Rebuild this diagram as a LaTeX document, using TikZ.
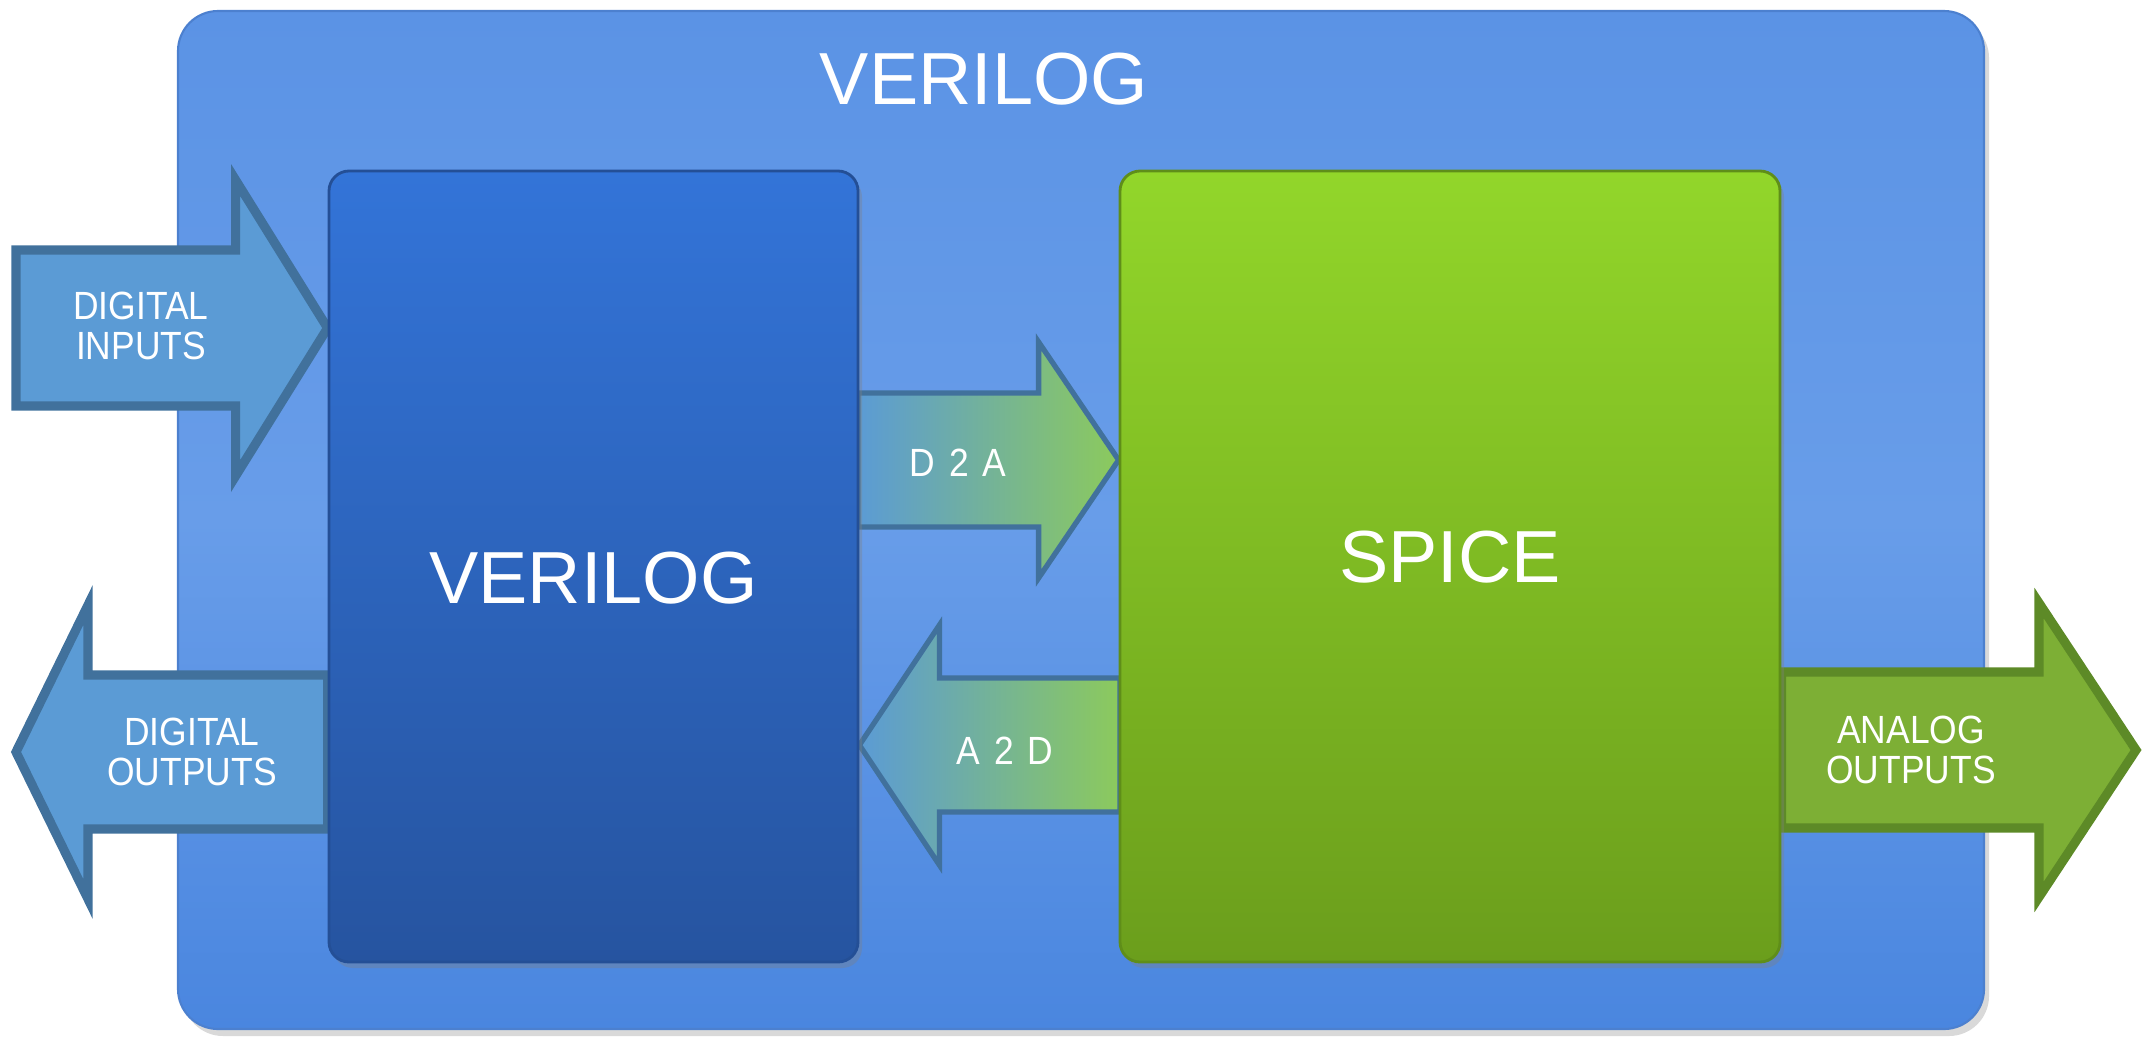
\documentclass[tikz,border=0pt]{standalone}
\usepackage{fontspec}
\setmainfont{Liberation Sans}
\newfontfamily\narrowsans[FakeStretch=0.9]{Liberation Sans}
\usepackage{tikz}
\usetikzlibrary{calc,shadows,positioning}

\definecolor{simtop}{HTML}{5B93E5}
\definecolor{simmid}{HTML}{689DE9}
\definecolor{simbot}{HTML}{4A86DF}
\definecolor{simedge}{HTML}{4C80CF}
\definecolor{verilogtop}{HTML}{3374D8}
\definecolor{verilogbot}{HTML}{2654A0}
\definecolor{verilogedge}{HTML}{244F96}
\definecolor{spicetop}{HTML}{92D62A}
\definecolor{spicebot}{HTML}{6B9E1C}
\definecolor{spiceedge}{HTML}{5F8E19}
\definecolor{bluefill}{HTML}{5B9BD5}
\definecolor{blueedge}{HTML}{41719C}
\definecolor{greenfill}{HTML}{7DAF35}
\definecolor{greenedge}{HTML}{5D8A27}
\definecolor{convgreen}{HTML}{8CCA5C}

\pgfdeclarelayer{back}
\pgfdeclarelayer{arrows}
\pgfsetlayers{back,arrows,main}

% block arrow: style, tail, tip, shaft half width, head half width, head offset
\newcommand{\blockarrow}[6]{%
  \draw[#1] ($(#2)+(0,#4)$) -- ($(#3)+(#6,#4)$) -- ($(#3)+(#6,#5)$) -- (#3)
    -- ($(#3)+(#6,-#5)$) -- ($(#3)+(#6,-#4)$) -- ($(#2)+(0,-#4)$) -- cycle;}

\begin{document}
\begin{tikzpicture}[
    outerbox/.style={rounded corners=0.4cm, draw=simedge, line width=0.6pt,
        top color=simtop, bottom color=simbot, middle color=simmid,
        drop shadow={shadow xshift=0.05cm, shadow yshift=-0.07cm, opacity=0.3}},
    simbox/.style={rounded corners=0.2cm, line width=0.8pt,
        minimum width=#1, minimum height=7.91cm,
        drop shadow={shadow xshift=0.04cm, shadow yshift=-0.06cm, opacity=0.35}},
    verilogbox/.style={simbox=5.29cm, draw=verilogedge, top color=verilogtop, bottom color=verilogbot},
    spicebox/.style={simbox=6.60cm, draw=spiceedge, top color=spicetop, bottom color=spicebot},
    bigtext/.style={text=white, font=\fontsize{21}{25}\selectfont},
    arrowtext/.style={text=white, align=center, font=\narrowsans\fontsize{11.2}{11.6}\selectfont},
    bluearrow/.style={draw=blueedge, line width=2.6pt, fill=bluefill},
    greenarrow/.style={draw=greenedge, line width=2.6pt, fill=greenfill},
    convarrow/.style={draw=blueedge, line width=1.5pt, left color=bluefill, right color=convgreen},
    revarrow/.style={draw=blueedge, line width=1.5pt, left color=bluefill, right color=convgreen}
]
    \useasboundingbox (0,0) rectangle (21.46,10.55);

    % simulation frame
    \begin{pgfonlayer}{back}
        \node[outerbox, minimum width=18.06cm, minimum height=10.18cm] (sim) at (10.81,5.35) {};
    \end{pgfonlayer}
    \node[bigtext] (title) at (9.84,9.76) {VERILOG};

    % engines
    \node[verilogbox] (verilog) at (5.935,4.885) {};
    \node[spicebox] (spice) at (14.50,4.885) {};
    \node[bigtext] (veriloglabel) at ([yshift=-0.12cm]verilog.center) {VERILOG};
    \node[bigtext] (spicelabel) at ([yshift=0.09cm]spice.center) {SPICE};

    % arrow ends
    \coordinate (di-tail) at (0.16,7.27);
    \coordinate (di-tip) at (verilog.west |- di-tail);
    \coordinate (do-tip) at (0.16,3.03);
    \coordinate (do-tail) at (verilog.west |- do-tip);
    \coordinate (d2a-tail) at (8.58,5.95);
    \coordinate (d2a-tip) at (spice.west |- d2a-tail);
    \coordinate (a2d-tail) at (11.20,3.10);
    \coordinate (a2d-tip) at (verilog.east |- a2d-tail);
    \coordinate (ao-tip) at (21.36,3.05);
    \coordinate (ao-tail) at (spice.east |- ao-tip);

    \begin{pgfonlayer}{arrows}
        \blockarrow{bluearrow}{di-tail}{di-tip}{0.78}{1.48}{-0.92}
        \blockarrow{bluearrow}{do-tail}{do-tip}{0.77}{1.47}{0.72}
        \blockarrow{convarrow}{d2a-tail}{d2a-tip}{0.67}{1.18}{-0.80}
        \blockarrow{revarrow}{a2d-tail}{a2d-tip}{0.67}{1.20}{0.80}
        \blockarrow{greenarrow}{ao-tail}{ao-tip}{0.78}{1.47}{-0.97}
    \end{pgfonlayer}

    % arrow labels
    \node[arrowtext] (dilabel) at (1.41,7.29) {DIGITAL\\INPUTS};
    \node[arrowtext] (dolabel) at (1.92,3.03) {DIGITAL\\OUTPUTS};
    \node[arrowtext] (d2alabel) at (9.58,5.92) {D\hspace{0.35em}2\hspace{0.35em}A};
    \node[arrowtext] (a2dlabel) at (10.05,3.04) {A\hspace{0.35em}2\hspace{0.35em}D};
    \node[arrowtext] (aolabel) at (19.11,3.05) {ANALOG\\OUTPUTS};
\end{tikzpicture}
\end{document}
